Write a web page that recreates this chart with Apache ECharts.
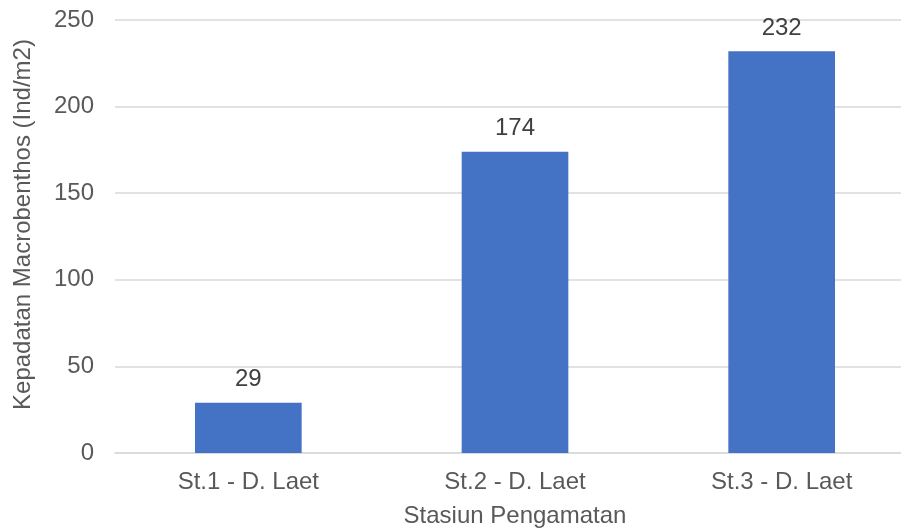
<!DOCTYPE html>
<html><head><meta charset="utf-8">
<script src="https://cdn.jsdelivr.net/npm/echarts@6/dist/echarts.min.js"></script>
<style>html,body{margin:0;padding:0;background:#fff;width:901px;height:531px;overflow:hidden}#c{width:915px;height:531px}</style>
</head><body><div id="c"></div>
<script>
const categories = ["St.1 - D. Laet", "St.2 - D. Laet", "St.3 - D. Laet"];
const values = [29, 174, 232];
const yTicks = [0, 50, 100, 150, 200, 250];

const font = "'Liberation Sans', Arial, sans-serif";
const chart = echarts.init(document.getElementById('c'));
chart.setOption({
  animation: false,
  grid: { left: 115, top: 20, right: 0, height: 433, containLabel: false, outerBoundsMode: 'none' },
  xAxis: {
    type: 'category', data: categories,
    name: 'Stasiun Pengamatan', nameLocation: 'middle', nameGap: 51,
    nameTextStyle: { fontSize: 24, color: '#595959', fontFamily: font },
    axisLine: { lineStyle: { color: '#d9d9d9', width: 1.5 } },
    axisTick: { show: false },
    axisLabel: { fontSize: 24, color: '#595959', fontFamily: font, margin: 17 }
  },
  yAxis: {
    type: 'value', min: yTicks[0], max: yTicks[yTicks.length-1], interval: 50,
    name: 'Kepadatan Macrobenthos (Ind/m2)', nameLocation: 'middle', nameGap: 80,
    nameTextStyle: { fontSize: 24, color: '#595959', fontFamily: font, padding: [0, 0, 0, 24] },
    axisLine: { show: false }, axisTick: { show: false },
    axisLabel: { fontSize: 24, color: '#595959', fontFamily: font, margin: 21 },
    splitLine: { lineStyle: { color: '#d9d9d9', width: 1.5 } }
  },
  series: [{
    type: 'bar', data: values, barWidth: '40%',
    itemStyle: { color: '#4472c4' },
    label: { show: true, position: 'top', distance: 11, fontSize: 24, color: '#404040', fontFamily: font }
  }]
});
</script></body></html>
